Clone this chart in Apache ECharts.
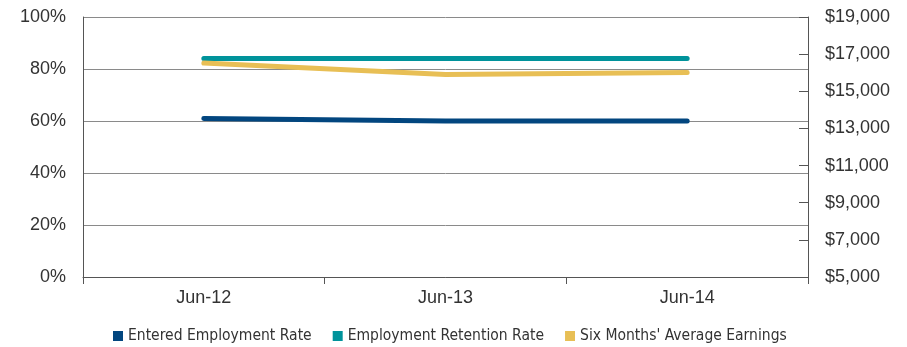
<!DOCTYPE html>
<html>
<head>
<meta charset="utf-8">
<script src="https://cdn.jsdelivr.net/npm/echarts@6/dist/echarts.min.js"></script>
<style>
html,body{margin:0;padding:0;background:#fff;}
#main{width:907px;height:347px;}
</style>
</head>
<body>
<div id="main"></div>
<script>
// categories and values
var periods = ['Jun-12', 'Jun-13', 'Jun-14'];
var enteredRate = [61, 60, 60];
var retentionRate = [84, 84, 84];
var avgEarnings = [16520, 15910, 16010];

var chart = echarts.init(document.getElementById('main'));
var font = 'Liberation Sans';
var option = {
    animation: false,
    color: ['#02467f', '#00939b', '#e8bf55'],
    grid: {left: 83, right: 99, top: 17, bottom: 70},
    legend: {
        bottom: -2,
        left: 108,
        icon: 'rect',
        itemWidth: 10,
        itemHeight: 10,
        itemGap: 21,
        textStyle: {fontFamily: '"DejaVu Sans Condensed", "Liberation Sans", sans-serif', fontSize: 15.5, color: '#333'},
        data: ['Entered Employment Rate', 'Employment Retention Rate', "Six Months' Average Earnings"]
    },
    xAxis: {
        type: 'category',
        data: periods,
        boundaryGap: true,
        axisLine: {lineStyle: {color: '#555', width: 1}},
        axisTick: {show: true, length: 7, lineStyle: {color: '#555'}},
        axisLabel: {fontFamily: font, fontSize: 18, color: '#333', margin: 12}
    },
    yAxis: [
        {
            type: 'value',
            min: 0, max: 100, interval: 20,
            axisLine: {show: true, lineStyle: {color: '#555'}},
            axisTick: {show: false},
            splitLine: {lineStyle: {color: '#8a8a8a', width: 1}},
            axisLabel: {formatter: '{value}%', fontFamily: font, fontSize: 18, color: '#333', margin: 17}
        },
        {
            type: 'value',
            min: 5000, max: 19000, interval: 2000,
            position: 'right',
            axisLine: {show: true, lineStyle: {color: '#555'}},
            axisTick: {show: true, inside: true, length: 9, lineStyle: {color: '#555'}},
            splitLine: {show: false},
            axisLabel: {
                formatter: function (v) { return '$' + v.toLocaleString('en-US'); },
                fontFamily: font, fontSize: 18, color: '#333', margin: 17
            }
        }
    ],
    series: [
        {
            name: 'Entered Employment Rate',
            type: 'line',
            data: enteredRate,
            symbol: 'none',
            lineStyle: {width: 5, cap: 'round'}
        },
        {
            name: 'Employment Retention Rate',
            type: 'line',
            data: retentionRate,
            symbol: 'none',
            lineStyle: {width: 5, cap: 'round'}
        },
        {
            name: "Six Months' Average Earnings",
            type: 'line',
            yAxisIndex: 1,
            data: avgEarnings,
            symbol: 'none',
            lineStyle: {width: 5, cap: 'round'}
        }
    ]
};
chart.setOption(option);
</script>
</body>
</html>
